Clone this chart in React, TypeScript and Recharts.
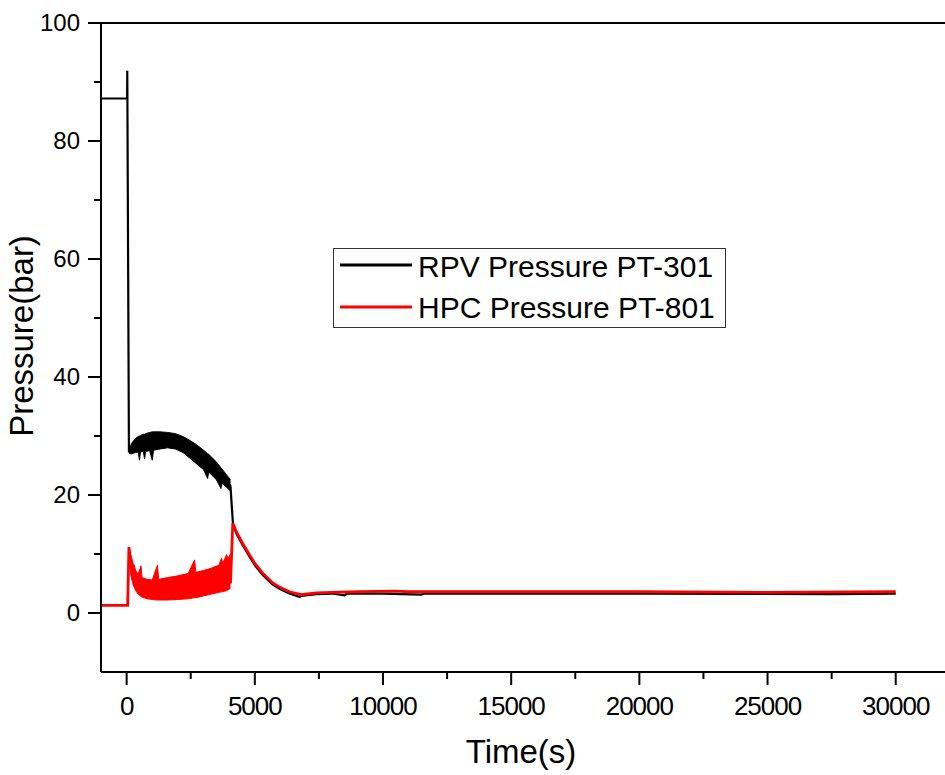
import { ComposedChart, Line, Area, XAxis, YAxis, ReferenceLine, Label } from "recharts";

// time (s), pressure (bar)
const rpvTrace: [number, number][] = [
  [-1000, 87.2], [20, 87.2], [25, 91.9], [90, 27.2], [100, 27.4],
  [500, 28.6], [1000, 29.1], [1500, 29.3], [2000, 28.8], [2500, 27.8],
  [3000, 26.0], [3500, 24.1], [3900, 22.4], [4050, 21.5], [4100, 18.2],
  [4150, 15.0], [4300, 13.3], [4500, 11.7], [4800, 9.5], [5000, 8.1],
  [5300, 6.5], [5700, 4.8], [6000, 4.0], [6350, 3.3], [6750, 2.7],
  [6800, 2.9], [7400, 3.2], [8000, 3.3], [8500, 3.0], [8600, 3.3],
  [10000, 3.3], [11500, 3.1], [11600, 3.3], [15000, 3.3], [20000, 3.3],
  [27500, 3.2], [30000, 3.3],
];

const hpcTrace: [number, number][] = [
  [-1000, 1.3], [40, 1.3], [90, 11.2], [110, 10.0], [250, 6.5],
  [500, 4.4], [1000, 4.0], [1500, 4.1], [2000, 4.3], [2500, 4.6],
  [3000, 5.0], [3500, 5.8], [4000, 6.8], [4050, 5.0], [4100, 10.5],
  [4140, 15.2], [4300, 13.6], [4500, 12.0], [4800, 9.8], [5000, 8.4],
  [5300, 6.8], [5700, 5.1], [6000, 4.3], [6350, 3.6], [6800, 3.1],
  [7400, 3.4], [8000, 3.5], [9000, 3.6], [10500, 3.7], [11000, 3.6],
  [15000, 3.6], [20000, 3.6], [25000, 3.5], [30000, 3.6],
];

// oscillation envelope during the first phase: time, low, high
const rpvBand: [number, number, number][] = [
  [100, 27.0, 27.8], [200, 27.0, 28.8], [350, 27.2, 29.6], [450, 27.3, 29.9],
  [500, 25.9, 30.0], [540, 27.3, 30.1], [650, 27.4, 30.3], [700, 26.1, 30.3],
  [740, 27.4, 30.4], [900, 27.5, 30.6], [1000, 25.9, 30.7], [1050, 27.6, 30.7],
  [1300, 27.8, 30.7], [1600, 28.0, 30.6], [1900, 27.8, 30.4], [2200, 27.2, 29.9],
  [2450, 26.3, 29.3], [2700, 25.4, 28.6], [3000, 24.3, 27.6], [3160, 22.8, 27.0],
  [3200, 23.9, 26.9], [3500, 22.6, 25.6], [3680, 21.1, 24.6], [3720, 22.0, 24.4],
  [3900, 21.3, 23.4], [4050, 20.7, 22.6],
];

const hpcBand: [number, number, number][] = [
  [110, 9.5, 11.0], [160, 6.5, 10.0], [250, 4.8, 8.4], [300, 4.3, 8.1],
  [350, 3.8, 7.2], [450, 3.2, 6.6], [560, 2.8, 8.0], [600, 2.7, 6.0],
  [800, 2.4, 5.7], [1000, 2.3, 5.6], [1200, 2.2, 8.1], [1250, 2.2, 5.7],
  [1600, 2.2, 6.0], [2000, 2.3, 6.3], [2400, 2.4, 6.7], [2650, 2.6, 9.0],
  [2700, 2.6, 6.9], [3000, 2.9, 7.2], [3300, 3.2, 7.6], [3600, 3.5, 8.1],
  [3700, 3.6, 9.3], [3750, 3.6, 8.4], [3900, 3.8, 9.9], [3950, 3.9, 9.2],
  [4050, 4.2, 10.0],
];

const xTicks = [0, 2500, 5000, 7500, 10000, 12500, 15000, 17500, 20000, 22500, 25000, 27500, 30000];
const yTicks = [0, 10, 20, 30, 40, 50, 60, 70, 80, 90, 100];

const FONT = '"Liberation Sans", Arial, sans-serif';

const toLine = (arr: [number, number][]) => arr.map(([t, v]) => ({ t, v }));
const toBand = (arr: [number, number, number][]) => arr.map(([t, lo, hi]) => ({ t, range: [lo, hi] }));

function XTick(props: any) {
  const { x, y, payload } = props;
  const major = payload.value % 5000 === 0;
  return (
    <g>
      <line x1={x} x2={x} y1={y} y2={y + (major ? 13 : 7)} stroke="#000" strokeWidth={2} />
      {major && (
        <text x={x} y={y + 43} textAnchor="middle" fontSize={26} letterSpacing={-1} fontFamily={FONT} fill="#000">
          {payload.value}
        </text>
      )}
    </g>
  );
}

function YTick(props: any) {
  const { x, y, payload } = props;
  const major = payload.value % 20 === 0;
  return (
    <g>
      <line x1={x} x2={x - (major ? 13 : 7)} y1={y} y2={y} stroke="#000" strokeWidth={2} />
      {major && (
        <text x={x - 21} y={y} dy="0.35em" textAnchor="end" fontSize={24} fontFamily={FONT} fill="#000">
          {payload.value}
        </text>
      )}
    </g>
  );
}

export default function App() {
  return (
    <div style={{ position: "fixed", left: 0, top: 0, width: 945, height: 775, overflow: "hidden", background: "#fff" }}>
      <ComposedChart width={953} height={775} margin={{ top: 23, right: 6, bottom: 0, left: 8 }}>
        <XAxis
          type="number"
          dataKey="t"
          domain={[-1000, 32000]}
          ticks={xTicks}
          interval={0}
          allowDataOverflow
          height={103}
          tickSize={0}
          tickMargin={0}
          tickLine={false}
          axisLine={{ stroke: "#000", strokeWidth: 2 }}
          tick={(p: any) => <XTick {...p} />}
        >
          <Label
            content={() => (
              <text x={521} y={763} textAnchor="middle" fontSize={33} fontFamily={FONT} fill="#000">
                Time(s)
              </text>
            )}
          />
        </XAxis>
        <YAxis
          type="number"
          domain={[-10, 100]}
          ticks={yTicks}
          interval={0}
          allowDataOverflow
          width={93}
          tickSize={0}
          tickMargin={0}
          tickLine={false}
          axisLine={{ stroke: "#000", strokeWidth: 2 }}
          tick={(p: any) => <YTick {...p} />}
        >
          <Label
            content={() => (
              <text x={33} y={336} transform="rotate(-90, 33, 336)" textAnchor="middle" fontSize={33} fontFamily={FONT} fill="#000">
                Pressure(bar)
              </text>
            )}
          />
        </YAxis>
        <ReferenceLine y={100} stroke="#000" strokeWidth={2} />
        <Area
          data={toBand(rpvBand)}
          dataKey="range"
          type="linear"
          stroke="#000"
          strokeWidth={1}
          fill="#000"
          fillOpacity={1}
          dot={false}
          activeDot={false}
          isAnimationActive={false}
        />
        <Line
          data={toLine(rpvTrace)}
          dataKey="v"
          type="linear"
          stroke="#000"
          strokeWidth={2.2}
          dot={false}
          activeDot={false}
          isAnimationActive={false}
        />
        <Area
          data={toBand(hpcBand)}
          dataKey="range"
          type="linear"
          stroke="#ff0000"
          strokeWidth={1}
          fill="#ff0000"
          fillOpacity={1}
          dot={false}
          activeDot={false}
          isAnimationActive={false}
        />
        <Line
          data={toLine(hpcTrace)}
          dataKey="v"
          type="linear"
          stroke="#ff0000"
          strokeWidth={2.8}
          dot={false}
          activeDot={false}
          isAnimationActive={false}
        />
      </ComposedChart>
      <svg
        width={393}
        height={80}
        style={{ position: "absolute", left: 333, top: 248, fontFamily: FONT }}
      >
        <rect x={0.5} y={0.5} width={392} height={79} fill="#fff" stroke="#333" strokeWidth={1} />
        <line x1={7} x2={79} y1={17} y2={17} stroke="#000" strokeWidth={3} />
        <text x={85} y={29} fontSize={30} fill="#000">RPV Pressure PT-301</text>
        <line x1={7} x2={79} y1={59} y2={59} stroke="#ff0000" strokeWidth={3} />
        <text x={85} y={70} fontSize={30} fill="#000">HPC Pressure PT-801</text>
      </svg>
    </div>
  );
}
